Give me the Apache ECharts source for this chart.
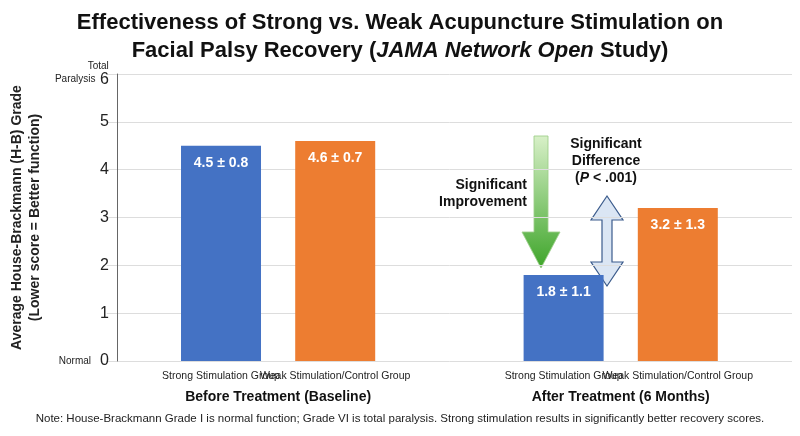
<!DOCTYPE html>
<html>
<head>
<meta charset="UTF-8">
<title>Acupuncture</title>
<style>
html,body{margin:0;padding:0;width:100%;height:100%;background:#fff;}
#chart{width:800px;height:436px;}
</style>
<script src="https://cdn.jsdelivr.net/npm/echarts@6/dist/echarts.min.js"></script>
</head>
<body>
<div id="chart"></div>
<script>
// x positions on hidden value axis (3 = gap between groups)
var slots = [1, 2, 4, 5];
var groups = ['Strong Stimulation Group', 'Weak Stimulation/Control Group', 'Strong Stimulation Group', 'Weak Stimulation/Control Group'];
var means = [4.5, 4.6, 1.8, 3.2];
var sds = [0.8, 0.7, 1.1, 1.3];
var colors = ['#4472c4', '#ed7d31', '#4472c4', '#ed7d31'];
var phases = ['Before Treatment (Baseline)', 'After Treatment (6 Months)'];

var chart = echarts.init(document.getElementById('chart'));
var F = 'Liberation Sans, Arial, sans-serif';

var barData = means.map(function (m, i) {
    return { value: [slots[i], m], itemStyle: { color: colors[i] }, sd: sds[i] };
});

var option = {
    animation: false,
    textStyle: { fontFamily: F },
    title: {
        left: 'center', top: 4,
        text: 'Effectiveness of Strong vs. Weak Acupuncture Stimulation on\n{b|Facial Palsy Recovery (}{i|JAMA Network Open}{b| Study)}',
        textStyle: {
            fontSize: 22, fontWeight: 'bold', color: '#111', lineHeight: 28,
            rich: {
                b: { fontSize: 22, fontWeight: 'bold', color: '#111', fontFamily: F },
                i: { fontSize: 22, fontWeight: 'bold', fontStyle: 'italic', color: '#111', fontFamily: F }
            }
        }
    },
    grid: { left: 100, right: 8, top: 74, bottom: 75 },
    xAxis: {
        type: 'value', min: 0, max: 6, interval: 1,
        splitLine: { show: false },
        axisLine: { show: false }, axisTick: { show: false },
        axisLabel: {
            color: '#222', fontSize: 10.5, margin: 10,
            formatter: function (v) {
                var k = slots.indexOf(v);
                return k >= 0 ? groups[k] : '';
            }
        }
    },
    yAxis: {
        type: 'value', min: 0, max: 6, interval: 1, offset: -10,
        name: 'Average House-Brackmann (H-B) Grade\n(Lower score = Better function)',
        nameLocation: 'middle', nameGap: 66,
        nameTextStyle: { fontSize: 14, fontWeight: 'bold', color: '#222', lineHeight: 18 },
        axisLine: { show: true, lineStyle: { color: '#666' } },
        axisTick: { show: false },
        splitLine: { lineStyle: { color: '#ddd' } },
        axisLabel: {
            fontSize: 16, color: '#222',
            formatter: function (v) {
                if (v === 6) return '{s|Total}\n{s|Paralysis} 6';
                if (v === 0) return '{s|Normal}  0';
                return String(v);
            },
            rich: { s: { fontSize: 10, color: '#222', fontFamily: F, lineHeight: 11 } }
        }
    },
    series: [{
        type: 'bar', barWidth: 80,
        data: barData,
        label: {
            show: true, position: 'insideTop', distance: 10,
            color: '#fff', fontSize: 14, fontWeight: 'bold',
            formatter: function (p) { return p.value[1].toFixed(1) + ' ± ' + p.data.sd.toFixed(1); }
        }
    }],
    graphic: [
        { type: 'text', left: 'center', top: 413, style: { text: 'Note: House-Brackmann Grade I is normal function; Grade VI is total paralysis. Strong stimulation results in significantly better recovery scores.', fontSize: 11.5, fill: '#222', fontFamily: F } },
        // green arrow
        { type: 'polygon', shape: { points: [[534, 136], [548, 136], [548, 232], [560, 232], [541, 268], [522, 232], [534, 232]] },
          style: { fill: new echarts.graphic.LinearGradient(0, 0, 0, 1, [{ offset: 0, color: '#d8f0c8' }, { offset: 1, color: '#3ea52a' }]), stroke: '#9ccf8a', lineWidth: 0.5 } },
        { type: 'text', x: 527, y: 177, style: { text: 'Significant\nImprovement', align: 'right', fontSize: 14, fontWeight: 'bold', fill: '#111', lineHeight: 17, fontFamily: F } },
        // double arrow
        { type: 'polygon', shape: { points: [[607, 196], [623, 220], [612, 220], [612, 262], [623, 262], [607, 286], [591, 262], [602, 262], [602, 220], [591, 220]] },
          style: { fill: '#dbe6f4', stroke: '#3b5b8c', lineWidth: 1.2 } },
        { type: 'text', x: 606, y: 136, style: { text: 'Significant\nDifference\n({i|P} < .001)', align: 'center', fontSize: 14, fontWeight: 'bold', fill: '#111', lineHeight: 17, fontFamily: F,
            rich: { i: { fontStyle: 'italic', fontWeight: 'bold', fontSize: 14, fill: '#111', fontFamily: F } } } }
    ]
};
chart.setOption(option);

// phase labels under each group, centred on the group through the axis scale
var gy = 390;
phases.forEach(function (t, i) {
    var cx = chart.convertToPixel({ gridIndex: 0 }, [(slots[i * 2] + slots[i * 2 + 1]) / 2, 0])[0];
    option.graphic.push({ type: 'text', x: cx, y: gy, style: { text: t, align: 'center', fontSize: 14, fontWeight: 'bold', fill: '#111', fontFamily: F } });
});
chart.setOption({ graphic: option.graphic });
</script>
</body>
</html>
